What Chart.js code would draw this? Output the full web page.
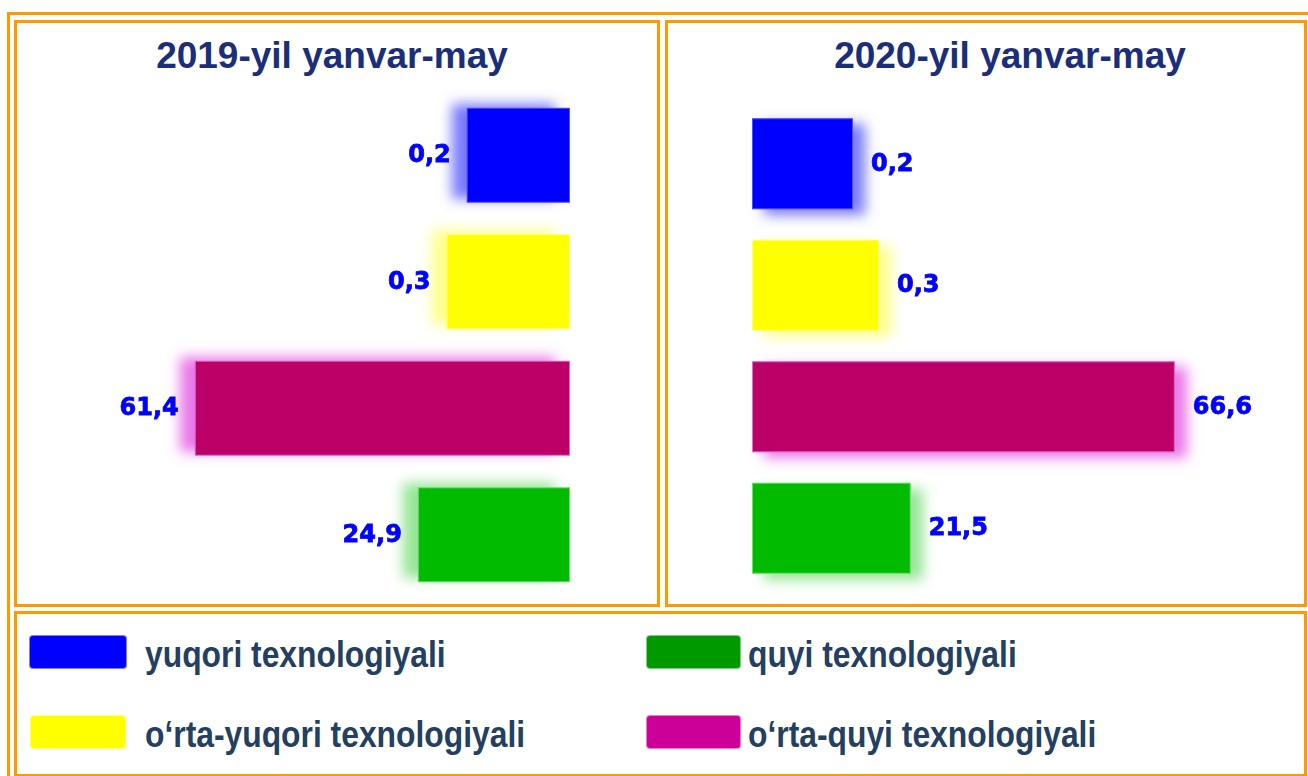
<!DOCTYPE html>
<html>
<head>
<meta charset="utf-8">
<script src="https://cdn.jsdelivr.net/npm/chart.js@4"></script>
<style>
  body { margin: 0; background: #fff; width: 1308px; height: 776px; overflow: hidden; position: relative; }
  .box { position: absolute; border: 3px solid #ff9900; box-sizing: border-box; }
  .title { position: absolute; font: bold 37px "Liberation Sans", Arial, sans-serif; color: #1b2e7a; text-align: center; line-height: 40px; white-space: nowrap; }
  .sw { position: absolute; border-radius: 4px; box-sizing: border-box; }
  .lt { position: absolute; font: bold 37px "Liberation Sans", Arial, sans-serif; color: #243f60; line-height: 44px; white-space: nowrap; transform: scaleX(0.86); transform-origin: 0 0; }
  canvas { position: absolute; }
</style>
</head>
<body>
<div class="box" style="left:7px;top:12px;width:1310px;height:770px;"></div>
<div class="box" style="left:14px;top:20px;width:646px;height:587px;"></div>
<div class="box" style="left:665px;top:20px;width:642px;height:587px;"></div>
<div class="box" style="left:14px;top:611px;width:1293px;height:166px;"></div>

<div class="title" style="left:32px;width:600px;top:36px;">2019-yil yanvar-may</div>
<div class="title" style="left:710px;width:600px;top:36px;">2020-yil yanvar-may</div>

<canvas id="chart2019" width="600" height="520" style="left:20px;top:80px;"></canvas>
<canvas id="chart2020" width="630" height="520" style="left:670px;top:80px;"></canvas>

<div id="legend"></div>

<script>
// categories and values (shares, %)
const categories = ['yuqori texnologiyali', 'o‘rta-yuqori texnologiyali', 'o‘rta-quyi texnologiyali', 'quyi texnologiyali'];
const values2019 = [0.2, 0.3, 61.4, 24.9];
const values2020 = [0.2, 0.3, 66.6, 21.5];
// bar lengths as drawn in the source picture (small shares get a minimum length)
const drawn2019 = [16.9, 20.2, 61.4, 24.9];
const drawn2020 = [15.9, 20.0, 66.6, 25.0];

const barColors = ['#0000ff', '#ffff00', '#bb0068', '#00bb00'];
const barBorders = ['#5050ff', '#ffff80', '#e070c0', '#70dd70'];
const glowColors = ['rgba(70,70,255,0.85)', 'rgba(255,255,110,0.9)', 'rgba(225,70,225,0.85)', 'rgba(90,215,90,0.8)'];
const legendColors = ['#0000ff', '#ffff00', '#cc0099', '#009900'];

const glowPlugin = {
    id: 'glow',
    beforeDatasetsDraw(chart, args, opts) {
        const ctx = chart.ctx;
        chart.getDatasetMeta(0).data.forEach((bar, i) => {
            const p = bar.getProps(['x', 'y', 'base', 'height'], true);
            ctx.save();
            ctx.shadowColor = glowColors[i];
            ctx.shadowBlur = opts.blur;
            ctx.shadowOffsetX = opts.dx;
            ctx.shadowOffsetY = opts.dy;
            ctx.fillStyle = glowColors[i];
            ctx.fillRect(Math.min(p.x, p.base), p.y - p.height / 2, Math.abs(p.x - p.base), p.height);
            ctx.restore();
        });
    }
};

const labelPlugin = {
    id: 'valueLabels',
    afterDatasetsDraw(chart, args, opts) {
        const ctx = chart.ctx;
        ctx.save();
        ctx.font = 'bold 24px "DejaVu Sans", Verdana, sans-serif';
        ctx.fillStyle = '#0000ff';
        ctx.strokeStyle = '#0000ff';
        ctx.lineWidth = 0.8;
        ctx.textBaseline = 'middle';
        ctx.textAlign = opts.side === 'left' ? 'right' : 'left';
        chart.getDatasetMeta(0).data.forEach((bar, i) => {
            const txt = opts.values[i].toFixed(1).replace('.', ',');
            const x = opts.side === 'left' ? bar.x - 16 : bar.x + 18;
            ctx.fillText(txt, x, bar.y + 1);
            ctx.strokeText(txt, x, bar.y + 1);
        });
        ctx.restore();
    }
};

function makeChart(id, drawn, values, cfg) {
    new Chart(document.getElementById(id), {
        type: 'bar',
        data: {
            labels: categories,
            datasets: [{
                data: drawn,
                backgroundColor: barColors,
                borderColor: barBorders,
                borderWidth: 1,
                borderSkipped: false,
                categoryPercentage: 1,
                barPercentage: 0.75
            }]
        },
        options: {
            indexAxis: 'y',
            responsive: false,
            animation: false,
            layout: { padding: cfg.padding },
            scales: {
                x: { display: false, min: 0, max: cfg.max, reverse: cfg.side === 'left' },
                y: { display: false }
            },
            plugins: {
                legend: { display: false },
                tooltip: { enabled: false },
                glow: { dx: cfg.dx, dy: cfg.dy, blur: 12 },
                valueLabels: { values: values, side: cfg.side }
            }
        },
        plugins: [glowPlugin, labelPlugin]
    });
}

makeChart('chart2019', drawn2019, values2019, {
    side: 'left', max: 90, dx: -15, dy: -4,
    padding: { left: 0, right: 50, top: 12, bottom: 2 }
});
makeChart('chart2020', drawn2020, values2020, {
    side: 'right', max: 86, dx: 12, dy: 6,
    padding: { left: 82, right: 2, top: 23, bottom: 11 }
});

// legend: two columns, order as in the source
const legendSlots = [
    { i: 0, sx: 29, sw: 98, tx: 145, top: 635 },
    { i: 1, sx: 30, sw: 96, tx: 145, top: 715 },
    { i: 3, sx: 646, sw: 95, tx: 748, top: 635 },
    { i: 2, sx: 646, sw: 95, tx: 748, top: 715 }
];
const legend = document.getElementById('legend');
legendSlots.forEach(s => {
    const sw = document.createElement('div');
    sw.className = 'sw';
    sw.style.cssText = `left:${s.sx}px;top:${s.top}px;width:${s.sw}px;height:34px;background:${legendColors[s.i]};border:1px solid rgba(255,255,255,0.5);`;
    legend.appendChild(sw);
    const t = document.createElement('div');
    t.className = 'lt';
    t.style.cssText = `left:${s.tx}px;top:${s.top - 2}px;`;
    t.textContent = categories[s.i];
    legend.appendChild(t);
});
</script>
</body>
</html>
